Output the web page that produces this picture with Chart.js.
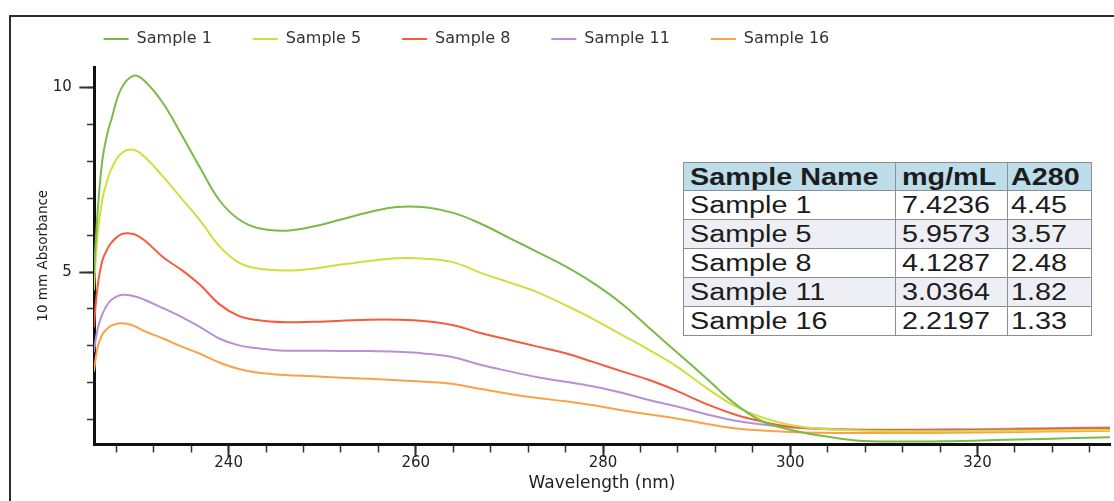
<!DOCTYPE html>
<html>
<head>
<meta charset="utf-8">
<script src="https://cdn.jsdelivr.net/npm/chart.js@4.4.1/dist/chart.umd.min.js"></script>
<style>
html, body { margin:0; padding:0; background:#fff; overflow:hidden; width:1114px; height:501px; }
#frame { position:absolute; left:9px; top:15px; width:1300px; height:700px; border:2px solid #2b2b2b; box-sizing:border-box; }
#wrap { position:absolute; left:0; top:0; width:1114px; height:501px; }
canvas { display:block; }
#tbl { position:absolute; left:683px; top:162px; width:408px; table-layout:fixed; border-collapse:collapse;
       font-family:'Liberation Sans', Arial, sans-serif; font-size:23px; color:#1c1c1c; background:#fff; }
#tbl th, #tbl td { border:1.5px solid #8e8e8e; padding:0 0 0 6px; text-align:left; white-space:nowrap; overflow:hidden; vertical-align:middle; line-height:26px; }
#tbl th { background:#bcdde9; font-weight:bold; height:27px; }
#tbl td { height:28px; }
#tbl tr.alt td { background:#eeeff4; }
#tbl th:nth-child(3), #tbl td:nth-child(3) { padding-left:3px; }
#tbl span { display:inline-block; transform:scaleX(1.25); transform-origin:0 50%; }
</style>
</head>
<body>
<div id="frame"></div>
<div id="wrap"><canvas id="c" width="1114" height="501"></canvas></div>
<table id="tbl"></table>
<script>
// ---- data ----
const wavelengths = [225.6, 226.0, 226.5, 227.0, 227.5, 228.5, 229.8, 231, 233, 235, 237, 239, 241, 243, 246, 249, 252, 255, 258, 261, 264, 267, 270, 273, 276, 279, 282, 285, 288, 291, 294, 297, 300, 303, 307, 312, 317, 322, 327, 334.2];
const sample1  = [4.9, 6.6, 8.0, 8.7, 9.15, 9.95, 10.31, 10.18, 9.57, 8.7, 7.8, 6.95, 6.44, 6.2, 6.12, 6.23, 6.42, 6.62, 6.76, 6.75, 6.6, 6.3, 5.92, 5.54, 5.15, 4.69, 4.14, 3.47, 2.8, 2.13, 1.45, 0.96, 0.73, 0.58, 0.44, 0.41, 0.42, 0.45, 0.48, 0.53];
const sample5  = [4.5, 6.0, 6.95, 7.45, 7.8, 8.2, 8.31, 8.12, 7.58, 6.98, 6.38, 5.7, 5.27, 5.1, 5.04, 5.09, 5.2, 5.3, 5.37, 5.36, 5.26, 4.97, 4.72, 4.45, 4.1, 3.72, 3.3, 2.88, 2.42, 1.87, 1.38, 1.06, 0.86, 0.76, 0.71, 0.69, 0.69, 0.7, 0.71, 0.72];
const sample8  = [3.5, 4.6, 5.3, 5.6, 5.8, 6.02, 6.03, 5.86, 5.4, 5.05, 4.64, 4.13, 3.82, 3.7, 3.64, 3.65, 3.68, 3.71, 3.71, 3.67, 3.56, 3.34, 3.16, 2.98, 2.8, 2.56, 2.31, 2.07, 1.77, 1.43, 1.15, 0.95, 0.81, 0.76, 0.73, 0.72, 0.72, 0.73, 0.75, 0.77];
const sample11 = [2.83, 3.45, 3.85, 4.1, 4.25, 4.38, 4.35, 4.25, 4.02, 3.78, 3.5, 3.2, 3.02, 2.94, 2.87, 2.87, 2.86, 2.86, 2.84, 2.79, 2.69, 2.48, 2.31, 2.15, 2.03, 1.9, 1.73, 1.53, 1.35, 1.15, 0.98, 0.87, 0.8, 0.75, 0.73, 0.73, 0.74, 0.75, 0.77, 0.79];
const sample16 = [2.3, 2.95, 3.3, 3.46, 3.55, 3.61, 3.55, 3.4, 3.2, 2.98, 2.78, 2.55, 2.38, 2.28, 2.21, 2.18, 2.14, 2.11, 2.07, 2.03, 1.97, 1.83, 1.7, 1.59, 1.5, 1.39, 1.26, 1.14, 1.03, 0.89, 0.77, 0.71, 0.67, 0.65, 0.64, 0.64, 0.65, 0.66, 0.68, 0.70];
const seriesNames = ['Sample 1', 'Sample 5', 'Sample 8', 'Sample 11', 'Sample 16'];
const seriesColors = ['#7abb48', '#d2de3e', '#f45c3c', '#b890d6', '#f9a24a'];
const xMajorStep = 20, xMinorStep = 4, yMajorStep = 5, yMinorStep = 1;
const tableHeaders = ['Sample Name', 'mg/mL', 'A280'];
const tableNames = ['Sample 1', 'Sample 5', 'Sample 8', 'Sample 11', 'Sample 16'];
const tableConc = ['7.4236', '5.9573', '4.1287', '3.0364', '2.2197'];
const tableA280 = ['4.45', '3.57', '2.48', '1.82', '1.33'];

// ---- table ----
(function(){
  let html = '<colgroup><col style="width:212px"><col style="width:112px"><col style="width:84px"></colgroup>';
  html += '<tr>' + tableHeaders.map(h => '<th><span>' + h + '</span></th>').join('') + '</tr>';
  tableNames.forEach((n, i) => {
    html += '<tr class="' + (i % 2 ? 'alt' : '') + '"><td><span>' + n + '</span></td><td><span>' + tableConc[i] + '</span></td><td><span>' + tableA280[i] + '</span></td></tr>';
  });
  document.getElementById('tbl').innerHTML = html;
})();

// ---- chart ----
Chart.defaults.font.family = "'DejaVu Sans', sans-serif";
const seriesData = [sample1, sample5, sample8, sample11, sample16];
const X_MIN = 225.62, X_MAX = 334.15, Y_MIN = 0.33, Y_MAX = 10.55;
const LEGEND_X = 103.6, LEGEND_Y = 39, LEGEND_FONT = 16;

const legendShift = {
  id: 'legendShift',
  afterLayout(chart) {
    const lg = chart.legend;
    if (!lg) return;
    const p = lg.options.labels.padding;
    lg.left = LEGEND_X - p;
    lg.top = LEGEND_Y - p - LEGEND_FONT / 2;
  }
};

new Chart(document.getElementById('c'), {
  type: 'line',
  data: {
    datasets: seriesNames.map((name, i) => ({
      label: name,
      data: wavelengths.map((w, j) => ({ x: w, y: seriesData[i][j] })),
      borderColor: seriesColors[i],
      backgroundColor: seriesColors[i],
      borderWidth: 2,
      pointRadius: 0,
      tension: 0.4,
      fill: false
    }))
  },
  options: {
    responsive: false,
    animation: false,
    devicePixelRatio: 1,
    layout: { padding: { left: 0, right: 4, top: 0, bottom: 0 } },
    plugins: {
      tooltip: { enabled: false },
      legend: {
        display: true,
        position: 'top',
        align: 'start',
        maxHeight: 67,
        labels: {
          usePointStyle: true,
          pointStyle: 'line',
          pointStyleWidth: 25,
          padding: 41,
          color: '#333',
          font: { size: LEGEND_FONT }
        }
      }
    },
    scales: {
      x: {
        type: 'linear', position: 'bottom', min: X_MIN, max: X_MAX, weight: 1,
        afterFit(s) { s.height = 56.5; },
        ticks: { stepSize: xMajorStep, includeBounds: false, autoSkip: false, maxRotation: 0, padding: -2.5, color: '#222', font: { size: 15 } },
        grid: { drawOnChartArea: false, tickLength: 12.5, tickWidth: 2, tickColor: '#333' },
        border: { display: true, width: 3, color: '#111' },
        title: { display: true, text: 'Wavelength (nm)', color: '#222', font: { size: 17 }, padding: { top: 0, bottom: 7 } }
      },
      xMinor: {
        type: 'linear', position: 'bottom', min: X_MIN, max: X_MAX, weight: 0,
        afterFit(s) { s.height = 0; },
        ticks: { stepSize: xMinorStep, includeBounds: false, autoSkip: false, display: false },
        grid: { drawOnChartArea: false, tickLength: 8, tickWidth: 1.5, tickColor: '#333' },
        border: { display: false }
      },
      y: {
        type: 'linear', position: 'left', min: Y_MIN, max: Y_MAX, weight: 1,
        afterFit(s) { s.width = 94; },
        ticks: { stepSize: yMajorStep, includeBounds: false, autoSkip: false, padding: 7.5, color: '#222', font: { size: 15 } },
        grid: { drawOnChartArea: false, tickLength: 14.7, tickWidth: 2, tickColor: '#333' },
        border: { display: true, width: 3, color: '#111' },
        title: { display: true, text: '10 mm Absorbance', color: '#222', font: { size: 13.5 }, padding: { top: 35, bottom: 0 } }
      },
      yMinor: {
        type: 'linear', position: 'left', min: Y_MIN, max: Y_MAX, weight: 0,
        afterFit(s) { s.width = 0; },
        ticks: { stepSize: yMinorStep, includeBounds: false, autoSkip: false, display: false },
        grid: { drawOnChartArea: false, tickLength: 7, tickWidth: 1.5, tickColor: '#333' },
        border: { display: false }
      }
    }
  },
  plugins: [legendShift]
});
</script>
</body>
</html>
